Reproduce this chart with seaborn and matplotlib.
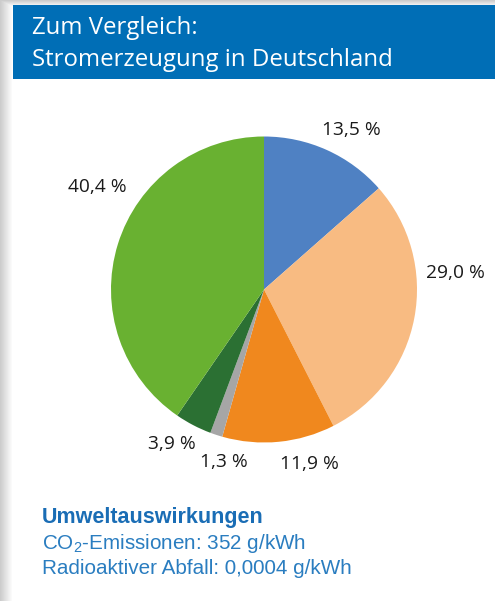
import matplotlib
matplotlib.use("Agg")
import matplotlib.pyplot as plt
import numpy as np
import seaborn as sns

# data
sources = ["Erneuerbare?", "Braunkohle/Steinkohle", "Erdgas", "Öl", "Sonstige", "Kernenergie"]
shares = [13.5, 29.0, 11.9, 1.3, 3.9, 40.4]
share_labels = ["13,5 %", "29,0 %", "11,9 %", "1,3 %", "3,9 %", "40,4 %"]
colors = ["#4f81c3", "#f8bb82", "#f0881e", "#a6a6a6", "#2b7033", "#69b131"]

title_lines = ["Zum Vergleich:", "Stromerzeugung in Deutschland"]
info_head = "Umweltauswirkungen"
info_lines = ["CO$_\\mathregular{2}$-Emissionen: 352 g/kWh", "Radioaktiver Abfall: 0,0004 g/kWh"]

# label placement (in pie radii), tuned by eye
label_pos = [(0.57, 1.04), (1.25, 0.11), (0.30, -1.14), (-0.26, -1.13), (-0.60, -1.01), (-1.09, 0.67)]

sns.set_theme(style="white")
plt.rcParams["font.family"] = ["Open Sans", "DejaVu Sans"]
plt.rcParams["mathtext.fontset"] = "custom"
plt.rcParams["mathtext.rm"] = "Liberation Sans"

W, H = 495, 601
fig = plt.figure(figsize=(W / 100, H / 100), dpi=100)
fig.patch.set_facecolor("white")

# background with soft shadow on the left and top
bg = fig.add_axes([0, 0, 1, 1])
xs = np.arange(W)
ys = np.arange(H)
sx = np.clip(1 - xs / 12.0, 0, 1)
sy = np.clip(1 - ys / 6.0, 0, 1)
shade = np.maximum(sx[None, :], sy[:, None]) * 0.2
img = np.ones((H, W, 3)) * (1 - shade[..., None])
bg.imshow(img, extent=(0, W, H, 0), aspect="auto")
bg.add_patch(plt.Rectangle((13, 5), W - 13, 74, color="#006eb6", lw=0))
bg.set_xlim(0, W)
bg.set_ylim(H, 0)
bg.axis("off")

bg.text(32, 34, title_lines[0], color="white", fontsize=17.3, va="baseline", ha="left")
bg.text(32, 66, title_lines[1], color="white", fontsize=17.3, va="baseline", ha="left")

bg.text(42, 523, info_head, color="#1a6db5", fontsize=15.5, fontweight="bold",
        family="Liberation Sans", va="baseline")
bg.text(42, 549, info_lines[0], color="#2a7dc0", fontsize=14.9,
        family="Liberation Sans", va="baseline")
bg.text(42, 574, info_lines[1], color="#2a7dc0", fontsize=14.9,
        family="Liberation Sans", va="baseline")

# pie
R = 153
cx, cy = 264, 289.5
side = 440
ax = fig.add_axes([(cx - side / 2) / W, (H - cy - side / 2) / H, side / W, side / H])
ax.pie(shares, colors=colors, startangle=90, counterclock=False, radius=1,
       wedgeprops=dict(linewidth=0))
lim = side / (2 * R)
ax.set_xlim(-lim, lim)
ax.set_ylim(-lim, lim)
ax.set_aspect("equal")
ax.axis("off")

for lab, (lx, ly) in zip(share_labels, label_pos):
    ax.text(lx, ly, lab, ha="center", va="center", fontsize=13.8, color="#1a1a1a")

fig.savefig("out.png", dpi=100)
